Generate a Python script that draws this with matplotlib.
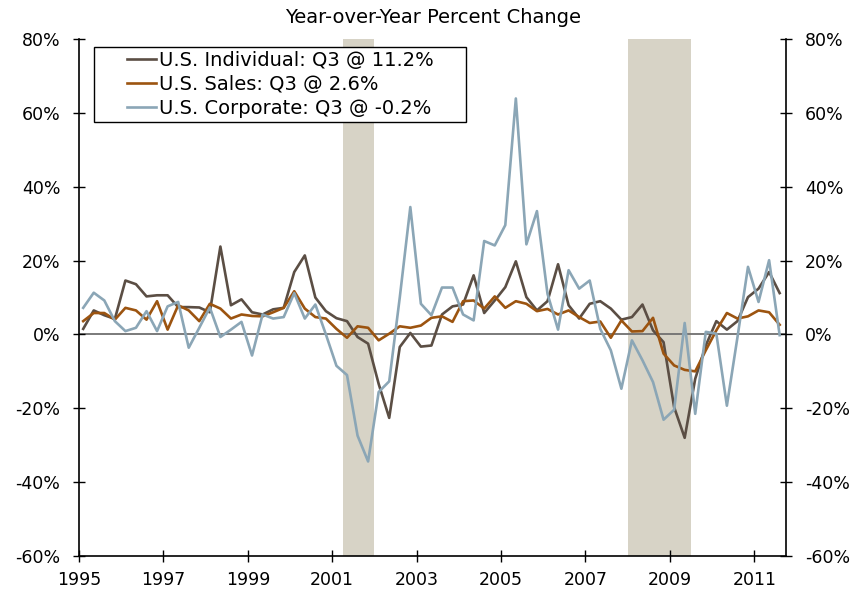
import numpy as np
import matplotlib
matplotlib.use("Agg")
import matplotlib.pyplot as plt
from matplotlib.ticker import FuncFormatter
from matplotlib.legend_handler import HandlerLine2D

# Quarterly year-over-year % change, 1995 Q1 - 2011 Q3
START = 1995.1
individual = [
    1.5, 6.5, 5.2, 4.2, 14.6, 13.6, 10.3, 10.6, 10.6, 7.4, 7.4, 7.3,
    6.0, 23.8, 7.9, 9.5, 6.0, 5.4, 6.8, 7.2, 16.9, 21.4, 10.0, 6.3,
    4.4, 3.6, -0.7, -2.5, -13.4, -22.6, -3.4, 0.4, -3.3, -3.0, 5.4, 7.6,
    8.1, 16.0, 5.8, 9.2, 12.8, 19.8, 10.1, 6.5, 9.0, 19.0, 7.9, 4.3,
    8.3, 9.0, 7.0, 4.0, 4.7, 8.1, 1.1, -2.1, -19.7, -28.0, -12.0, -3.0,
    3.6, 1.3, 3.6, 10.1, 12.4, 16.9, 11.2,
]
sales = [
    3.6, 5.8, 5.8, 4.0, 7.2, 6.5, 4.0, 9.0, 1.3, 7.9, 6.5, 3.6,
    8.3, 7.0, 4.3, 5.4, 5.0, 4.9, 6.0, 7.2, 11.7, 7.0, 4.7, 4.3,
    1.5, -0.9, 2.2, 1.8, -1.6, 0.2, 2.2, 1.8, 2.4, 4.5, 4.9, 3.4,
    9.0, 9.2, 7.0, 10.3, 7.2, 9.0, 8.3, 6.3, 6.9, 5.4, 6.5, 4.7,
    3.1, 3.5, -0.9, 3.8, 0.8, 0.9, 4.5, -5.2, -8.4, -9.6, -10.0, -4.3,
    1.1, 5.8, 4.3, 4.9, 6.5, 6.0, 2.6,
]
corporate = [
    7.2, 11.3, 9.2, 3.6, 0.9, 1.8, 6.3, 0.9, 7.6, 8.8, -3.6, 1.8,
    7.3, -0.7, 1.3, 3.4, -5.7, 5.4, 4.3, 4.7, 11.2, 4.3, 8.1, 0.0,
    -8.5, -11.0, -27.4, -34.4, -15.6, -12.7, 10.0, 34.5, 8.3, 5.2, 12.7, 12.7,
    5.4, 3.8, 25.3, 24.1, 29.6, 63.9, 24.4, 33.4, 11.0, 1.3, 17.4, 12.4,
    14.6, 1.5, -4.3, -14.7, -1.6, -7.0, -12.9, -23.1, -20.4, 3.1, -21.5, 0.7,
    0.2, -19.3, -0.8, 18.3, 8.8, 20.1, -0.2,
]
labels = [
    "U.S. Individual: Q3 @ 11.2%",
    "U.S. Sales: Q3 @ 2.6%",
    "U.S. Corporate: Q3 @ -0.2%",
]
colors = ["#5b4e44", "#9c5410", "#8ba6b6"]
recessions = [(2001.25, 2002.0), (2008.0, 2009.5)]


class ShortLine(HandlerLine2D):
    """Legend line drawn only over the right half of the handle box."""

    def create_artists(self, legend, orig_handle, xdescent, ydescent,
                       width, height, fontsize, trans):
        arts = super().create_artists(legend, orig_handle, xdescent, ydescent,
                                      width, height, fontsize, trans)
        xd = arts[0].get_xdata()
        yd = arts[0].get_ydata()
        x0, x1 = xd[0], xd[-1]
        arts[0].set_data([x0 + 0.5 * (x1 - x0), x1], [yd[0], yd[0]])
        return arts


x = START + 0.25 * np.arange(len(individual))

fig = plt.figure(figsize=(8.66, 5.94), dpi=100)
ax = fig.add_axes([0.0912, 0.064, 0.8164, 0.8703])

for a, b in recessions:
    ax.axvspan(a, b, color="#d7d3c6", lw=0, zorder=0)
ax.axhline(0, color="#707070", lw=1.3, zorder=1)

lines = []
for ys, c, lab in zip([individual, sales, corporate], colors, labels):
    ln, = ax.plot(x, ys, color=c, lw=1.9, label=lab, zorder=3)
    lines.append(ln)

ax.set_xlim(1995.0, 2011.75)
ax.set_ylim(-60, 80)
ax.set_xticks(range(1995, 2012, 2))
ax.set_yticks(range(-60, 81, 20))
ax.yaxis.set_major_formatter(FuncFormatter(lambda v, p: f"{v:.0f}%"))

ax.spines["top"].set_visible(False)
for s in ["left", "right", "bottom"]:
    ax.spines[s].set_linewidth(1.2)
ax.tick_params(axis="both", direction="inout", length=9, width=1,
               labelsize=12.5, right=True, labelright=True)
ax.tick_params(axis="y", pad=9)
ax.tick_params(axis="x", pad=6)

leg = ax.legend(handles=lines, loc="upper left",
                bbox_to_anchor=(0.0212, 0.5, 0.526, 0.4845), mode="expand",
                borderaxespad=0, fontsize=14, handlelength=3.0,
                handletextpad=0.15, borderpad=0.2, labelspacing=0.25,
                fancybox=False, framealpha=1, edgecolor="black",
                handler_map={matplotlib.lines.Line2D: ShortLine()})
leg.get_frame().set_linewidth(1.0)

fig.text(0.5, 0.971, "Year-over-Year Percent Change", ha="center",
         va="center", fontsize=14)

fig.savefig("out.png", dpi=100)
